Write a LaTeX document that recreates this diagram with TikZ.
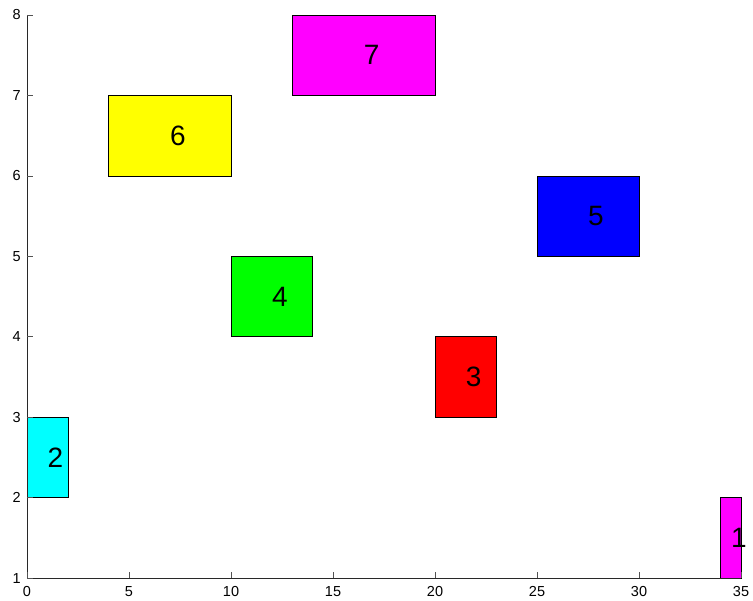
\documentclass[tikz,border=0pt]{standalone}
\usepackage{fontspec}
\setmainfont{Liberation Sans}
\definecolor{axgray}{RGB}{40,40,40}
\definecolor{mcyan}{rgb}{0,1,1}
\definecolor{mmag}{rgb}{1,0,1}
\definecolor{myel}{rgb}{1,1,0}
\definecolor{mgreen}{rgb}{0,1,0}
\definecolor{mblue}{rgb}{0,0,1}
\definecolor{mred}{rgb}{1,0,0}
\begin{document}
\begin{tikzpicture}[x=20.4pt,y=80.43pt,
  blk/.style={draw=black,line width=0.6pt},
  lbl/.style={anchor=west,inner sep=0pt,font=\fontsize{28}{28}\selectfont},
  tick/.style={draw=axgray!80,line width=0.6pt},
  ylab/.style={anchor=east,inner sep=0pt,font=\fontsize{14.5}{14.5}\selectfont},
  xlab/.style={anchor=north,inner sep=0pt,font=\fontsize{14.5}{14.5}\selectfont}]
\useasboundingbox (-1.3235,0.7265) rectangle (35.588,8.1865);
% rectangles
\draw[blk,fill=mmag] (34,1) rectangle (35,2);
\draw[blk,fill=mcyan] (0,2) rectangle (2,3);
\draw[blk,fill=mred] (20,3) rectangle (23,4);
\draw[blk,fill=mgreen] (10,4) rectangle (14,5);
\draw[blk,fill=mblue] (25,5) rectangle (30,6);
\draw[blk,fill=myel] (4,6) rectangle (10,7);
\draw[blk,fill=mmag] (13,7) rectangle (20,8);
% labels
\node[lbl] (l1) at (34.5,1.5) {1};
\node[lbl] (l2) at (1,2.5) {2};
\node[lbl] (l3) at (21.5,3.5) {3};
\node[lbl] (l4) at (12,4.5) {4};
\node[lbl] (l5) at (27.5,5.5) {5};
\node[lbl] (l6) at (7,6.5) {6};
\node[lbl] (l7) at (16.5,7.5) {7};
% axes
\draw[axgray,line width=0.7pt] (0,8) -- (0,1) -- (35,1);
\foreach \v in {1,...,8}{
  \draw[tick] (0,\v) -- ++(6pt,0);
  \node[ylab] (y\v) at ([xshift=-6pt]0,\v) {\v};
}
\foreach \v in {0,5,...,35}{
  \draw[tick] (\v,1) -- ++(0,6pt);
  \node[xlab] (x\v) at ([yshift=-8pt]\v,1) {\v};
}
\end{tikzpicture}
\end{document}
